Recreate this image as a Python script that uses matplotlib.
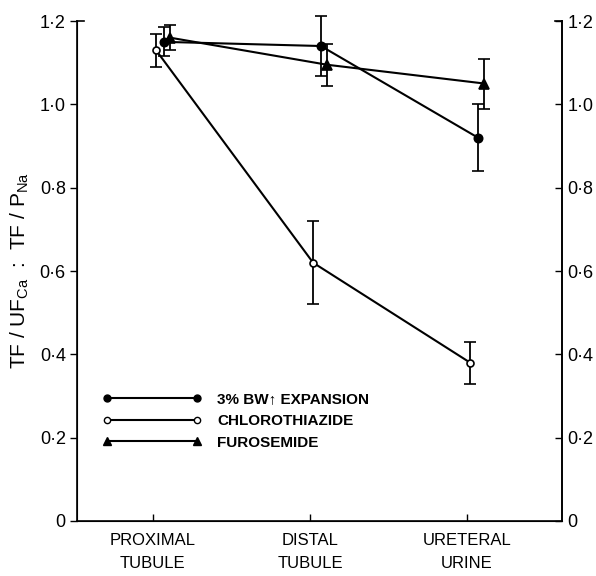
import matplotlib.pyplot as plt
from matplotlib.lines import Line2D
import numpy as np

plt.rcParams['font.family'] = ['Liberation Sans', 'DejaVu Sans']

sites = ['PROXIMAL\nTUBULE', 'DISTAL\nTUBULE', 'URETERAL\nURINE']
expansion = [1.15, 1.14, 0.92]
expansion_err = [0.035, 0.072, 0.08]
chloro = [1.13, 0.62, 0.38]
chloro_err = [0.04, 0.10, 0.05]
furo = [1.16, 1.095, 1.05]
furo_err = [0.03, 0.05, 0.06]
yticks = [0, 0.2, 0.4, 0.6, 0.8, 1.0, 1.2]
ylabels = ['0', '0·2', '0·4', '0·6', '0·8', '1·0', '1·2']

x = np.arange(len(sites))

fig = plt.figure(figsize=(5.96, 5.76), dpi=100)
ax = fig.add_axes([0.129, 0.0955, 0.814, 0.868])

style = dict(color='black', lw=1.5, capsize=4, elinewidth=1.3, capthick=1.3)
for y, err, off, mk, ms, face in [(expansion, expansion_err, 0.07, 'o', 6, 'black'),
                                  (chloro, chloro_err, 0.02, 'o', 5, 'white'),
                                  (furo, furo_err, 0.11, '^', 7, 'black')]:
    cont = ax.errorbar(x + off, y, yerr=err, marker=mk, ms=ms, mfc=face,
                       mew=1.2, **style)
    for artist in cont.get_children():
        artist.set_clip_on(False)

ax.set_xlim(-0.484, 2.605)
ax.set_ylim(0, 1.2)
ax.set_xticks(x)
ax.set_xticklabels(sites, fontsize=12, linespacing=1.6)
ax.set_yticks(yticks)
ax.set_yticklabels(ylabels, fontsize=13)
ax.tick_params(axis='x', direction='in', length=5, width=1, pad=9)
ax.tick_params(axis='y', direction='out', length=5, width=1, pad=3)
ax.spines['top'].set_visible(False)
for s in ['left', 'bottom', 'right']:
    ax.spines[s].set_linewidth(1.2)
ax.plot([0, 0.015], [1, 1], color='black', lw=1.2,
        transform=ax.transAxes, clip_on=False)
ax.plot([0.985, 1], [1, 1], color='black', lw=1.2,
        transform=ax.transAxes, clip_on=False)

ax2 = ax.twinx()
ax2.set_ylim(0, 1.2)
ax2.set_yticks(yticks)
ax2.set_yticklabels(ylabels, fontsize=13)
ax2.tick_params(axis='y', direction='in', length=5, width=1, pad=4)
ax2.spines['top'].set_visible(False)
ax2.spines['right'].set_linewidth(1.2)

ax.set_ylabel('TF / UF$_{\\mathregular{Ca}}$  :  TF / P$_{\\mathregular{Na}}$',
              fontsize=15, labelpad=6)

handles = [
    Line2D([], [], color='black', lw=1.5, marker='o', ms=5, mfc='black'),
    Line2D([], [], color='black', lw=1.5, marker='o', ms=4.5, mfc='white'),
    Line2D([], [], color='black', lw=1.5, marker='^', ms=6, mfc='black'),
]
ax.legend(handles, ['3% BW↑ EXPANSION', 'CHLOROTHIAZIDE', 'FUROSEMIDE'],
          loc='upper left', bbox_to_anchor=(0.025, 0.285), frameon=False,
          numpoints=2, handlelength=6.5, handletextpad=1.0,
          labelspacing=0.5, prop={'size': 11, 'weight': 'bold'})

fig.savefig('out.png', dpi=100)
